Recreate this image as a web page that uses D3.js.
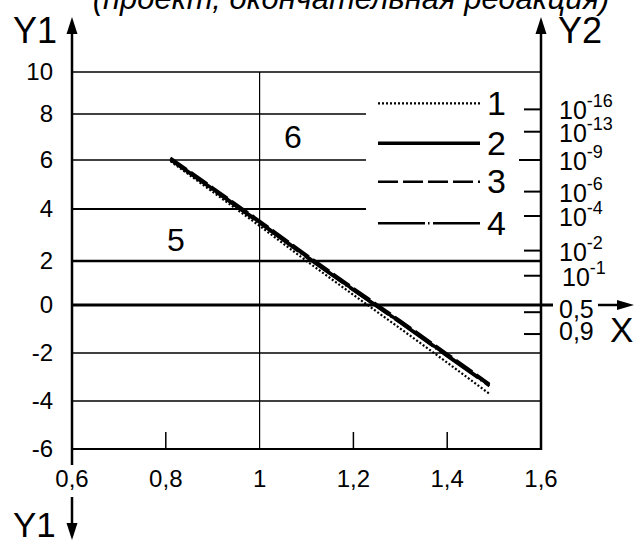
<!DOCTYPE html>
<html><head><meta charset="utf-8">
<script src="https://cdn.jsdelivr.net/npm/d3@7"></script>
<style>body{margin:0;background:#fff}svg{display:block}text{font-family:"Liberation Sans",Arial,sans-serif;fill:#000}</style>
</head><body>
<script>
// ---- data ----
const titleText = "(проект, окончательная редакция)";
const xTicks = [0.6, 0.8, 1, 1.2, 1.4, 1.6];
const xTickLabels = ["0,6", "0,8", "1", "1,2", "1,4", "1,6"];
const yTicks = [10, 8, 6, 4, 2, 0, -2, -4, -6];
const yTickLabels = ["10", "8", "6", "4", "2", "0", "-2", "-4", "-6"];
// Y2 probability ticks, placed at their Y1-equivalent values
const y2TickPos = [8.22, 7.23, 6.0, 4.71, 3.73, 2.40, 1.33, -0.30, -1.21];
const y2Base = ["10", "10", "10", "10", "10", "10", "10", "0,5", "0,9"];
const y2Exp = ["-16", "-13", "-9", "-6", "-4", "-2", "-1", "", ""];
const xValues = [0.81, 0.9, 1.0, 1.1, 1.2, 1.3, 1.4, 1.49];
const series1 = [5.95, 4.70, 3.35, 2.00, 0.46, -0.98, -2.40, -3.70];
const series2 = [6.04, 4.82, 3.49, 2.18, 0.70, -0.71, -2.10, -3.34];
const series3 = [6.10, 4.88, 3.55, 2.24, 0.77, -0.65, -2.03, -3.28];
const series4 = [5.99, 4.78, 3.45, 2.14, 0.66, -0.75, -2.14, -3.38];
const seriesNames = ["1", "2", "3", "4"];
const regionLabels = ["5", "6"];

// ---- drawing ----
const W = 638, H = 541;
const svg = d3.select("body").append("svg").attr("width", W).attr("height", H);
const x = d3.scaleLinear().domain([0.6, 1.6]).range([72, 541]);
const y = d3.scaleLinear().domain(yTicks).range([72, 114, 160, 209, 261, 305, 353, 401, 449]);
const X0 = x(0.6), X1 = x(1.6);

// title (partly cut by the top edge)
svg.append("text").attr("x", 351).attr("y", 9).attr("text-anchor", "middle")
  .attr("font-size", 31).attr("font-style", "italic").text(titleText);

// horizontal grid lines
const gw = d => d === 0 ? 3 : d === 2 ? 2.5 : d === 4 ? 2 : d === -6 ? 2 : 1.5;
svg.append("g").selectAll("line").data(yTicks).join("line")
  .attr("x1", X0).attr("x2", d => d === 0 ? X1 + 12 : X1)
  .attr("y1", d => y(d)).attr("y2", d => y(d))
  .attr("stroke", "#000").attr("stroke-width", gw);

// vertical line at x=1 and bottom ticks
svg.append("line").attr("x1", x(1)).attr("x2", x(1)).attr("y1", y(10)).attr("y2", y(-6))
  .attr("stroke", "#000").attr("stroke-width", 1.2);
svg.append("g").selectAll("line").data([0.8, 1.2, 1.4]).join("line")
  .attr("x1", d => x(d)).attr("x2", d => x(d)).attr("y1", y(-6)).attr("y2", y(-6) - 17)
  .attr("stroke", "#000").attr("stroke-width", 1.5);

// series lines
const line = d3.line().x((d, i) => x(xValues[i])).y(d => y(d));
const styles = [
  {w: 2.2, dash: "2,2"},
  {w: 3.4, dash: null},
  {w: 2.6, dash: "20,5"},
  {w: 2.6, dash: "47,3,1.5,3.5"}
];
[series1, series2, series3, series4].forEach((s, i) => {
  svg.append("path").attr("d", line(s)).attr("fill", "none").attr("stroke", "#000")
    .attr("stroke-width", styles[i].w).attr("stroke-dasharray", styles[i].dash);
});

// legend box (hides grid lines)
svg.append("rect").attr("x", 366).attr("y", 86).attr("width", X1 - 366).attr("height", 158).attr("fill", "#fff");
const legY = [103.3, 143.3, 181.7, 223.3];
seriesNames.forEach((n, i) => {
  svg.append("line").attr("x1", 378).attr("x2", 480).attr("y1", legY[i]).attr("y2", legY[i])
    .attr("stroke", "#000").attr("stroke-width", styles[i].w).attr("stroke-dasharray", styles[i].dash);
  svg.append("text").attr("x", 487).attr("y", legY[i] + 11.5).attr("font-size", 34).text(n);
});

// region labels
svg.append("text").attr("x", 167).attr("y", 251).attr("font-size", 32).text(regionLabels[0]);
svg.append("text").attr("x", 284).attr("y", 148).attr("font-size", 32).text(regionLabels[1]);

// left axis
svg.append("line").attr("x1", X0).attr("x2", X0).attr("y1", 30).attr("y2", 465)
  .attr("stroke", "#000").attr("stroke-width", 2.5);
svg.append("line").attr("x1", X0).attr("x2", X0).attr("y1", 497).attr("y2", 526)
  .attr("stroke", "#000").attr("stroke-width", 2.5);
// right axis
svg.append("line").attr("x1", X1).attr("x2", X1).attr("y1", 30).attr("y2", y(-6) + 1)
  .attr("stroke", "#000").attr("stroke-width", 2.5);
// arrows
const tri = (pts) => svg.append("path").attr("d", "M" + pts.map(p => p.join(",")).join("L") + "Z").attr("fill", "#000");
tri([[X0, 17], [X0 - 5.5, 34], [X0 + 5.5, 34]]);
tri([[X1, 17], [X1 - 5.5, 34], [X1 + 5.5, 34]]);
tri([[X0, 540], [X0 - 5.5, 523], [X0 + 5.5, 523]]);
svg.append("line").attr("x1", 598).attr("x2", 620).attr("y1", y(0)).attr("y2", y(0))
  .attr("stroke", "#000").attr("stroke-width", 2.5);
tri([[634, y(0)], [617, y(0) - 5], [617, y(0) + 5]]);

// axis names
svg.append("text").attr("x", 13).attr("y", 43).attr("font-size", 36).text("Y1");
svg.append("text").attr("x", 558).attr("y", 43).attr("font-size", 36).text("Y2");
svg.append("text").attr("x", 13).attr("y", 537).attr("font-size", 35).text("Y1");
svg.append("text").attr("x", 610).attr("y", 342).attr("font-size", 35).text("X");

// Y1 tick labels
svg.append("g").selectAll("text").data(yTicks).join("text")
  .attr("x", 53).attr("y", d => y(d)).attr("dy", "0.35em").attr("text-anchor", "end")
  .attr("font-size", 24).text((d, i) => yTickLabels[i]);
// X tick labels
svg.append("g").selectAll("text").data(xTicks).join("text")
  .attr("x", d => x(d)).attr("y", 487).attr("text-anchor", "middle")
  .attr("font-size", 24).text((d, i) => xTickLabels[i]);

// Y2 ticks and labels
svg.append("g").selectAll("line").data(y2TickPos).join("line")
  .attr("x1", (d, i) => X1 - (i === 2 ? 22 : 17)).attr("x2", X1)
  .attr("y1", d => y(d)).attr("y2", d => y(d)).attr("stroke", "#000").attr("stroke-width", 2);
y2TickPos.forEach((d, i) => {
  const t = svg.append("text").attr("x", i === 6 ? 562 : 559).attr("y", y(d) + (y2Exp[i] ? 10 : 6)).attr("font-size", 25);
  t.append("tspan").text(y2Base[i]);
  if (y2Exp[i]) t.append("tspan").attr("font-size", 18).attr("dy", -12).text(y2Exp[i]);
});
</script>
</body></html>
